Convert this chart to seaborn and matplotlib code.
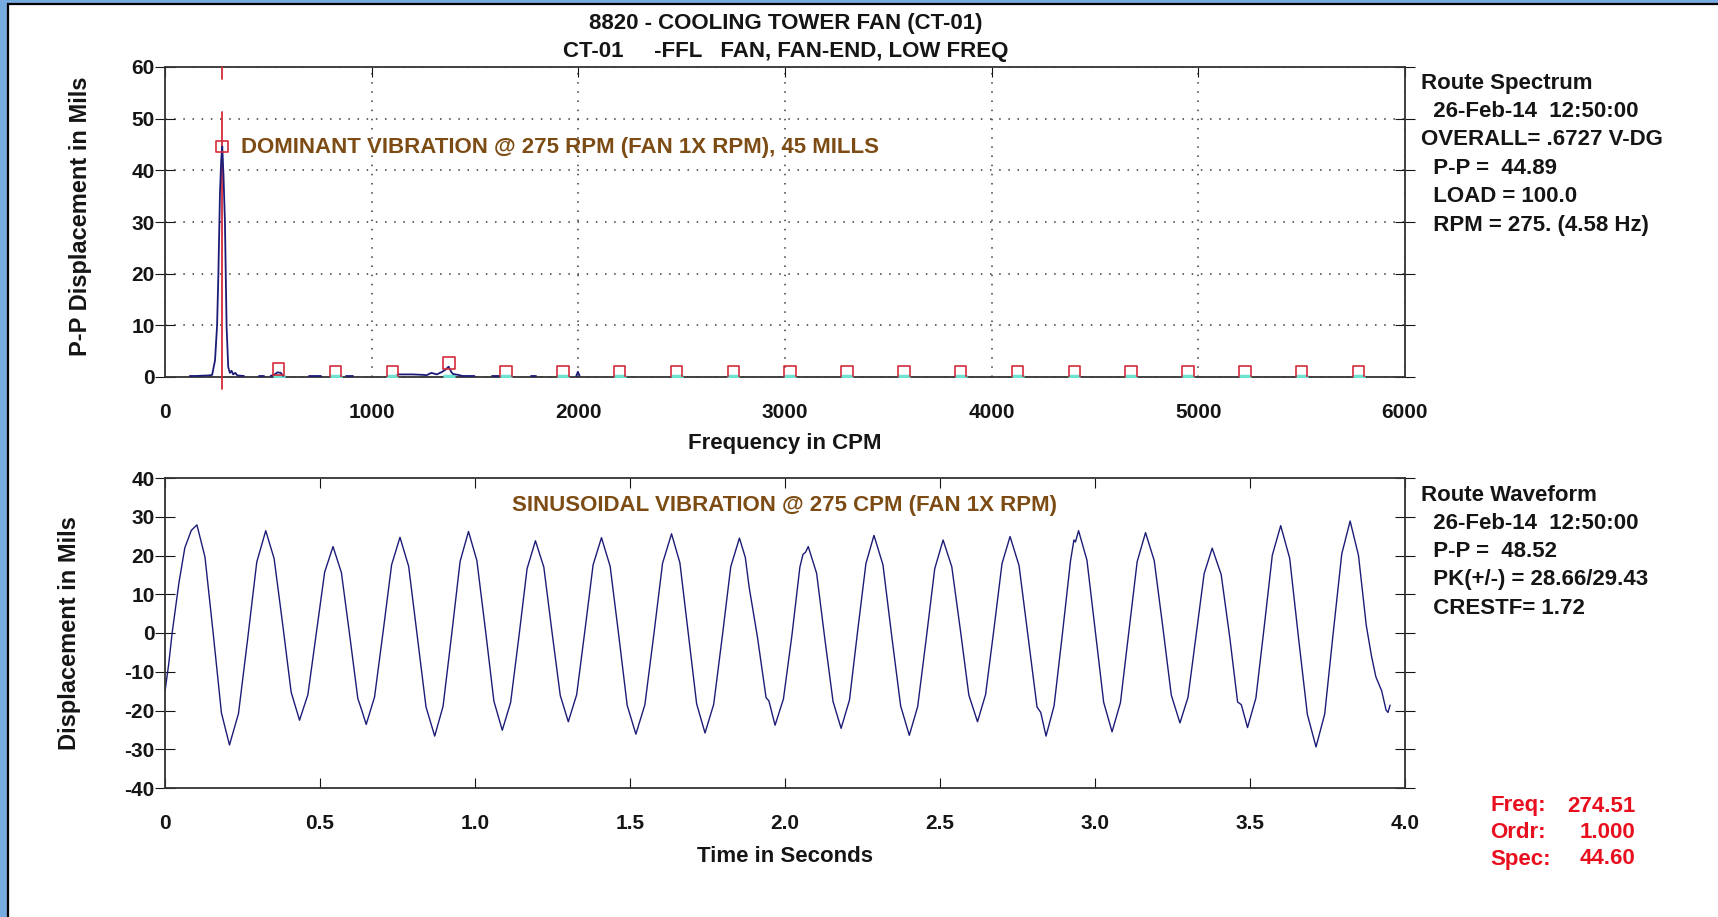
import numpy as np
import pandas as pd
import matplotlib
matplotlib.use('Agg')
from matplotlib import pyplot as plt
from matplotlib.patches import Rectangle
import seaborn as sns

# ---- spectrum trace (CPM vs mils P-P), seg = one connected piece of trace
spec_freq = [120, 150, 180, 210, 228, 242, 252, 258, 266, 272, 277, 283, 290, 298, 306, 314, 322, 330, 340, 350, 382,
             456, 480,
             511, 530, 545, 560, 572,
             698, 753,
             874, 909,
             1125, 1200, 1255, 1263, 1289, 1315, 1341, 1360, 1372, 1385, 1393, 1419, 1440, 1497,
             1582, 1616,
             1773, 1794,
             1990, 1998, 2006]
spec_amp = [0.2, 0.2, 0.25, 0.3, 0.4, 3.2, 10.0, 19.4, 35.6, 42.0, 44.6, 39.0, 30.0, 9.7, 1.9, 0.8, 1.2, 0.5, 0.8, 0.3, 0.2,
            0.2, 0.2,
            0.2, 0.5, 0.9, 0.8, 0.2,
            0.1, 0.1,
            0.1, 0.1,
            0.5, 0.5, 0.4, 0.3, 0.8, 0.5, 1.0, 1.5, 2.0, 1.0, 0.6, 0.4, 0.2, 0.2,
            0.2, 0.2,
            0.2, 0.2,
            0.2, 1.0, 0.2]
spec_seg = [0] * 21 + [1] * 2 + [2] * 5 + [3] * 2 + [4] * 2 + [5] * 14 + [6] * 2 + [7] * 2 + [8] * 3

# harmonic markers of running speed
harm_freq = [275, 550, 825, 1100, 1375, 1650, 1925, 2200, 2475, 2750, 3025,
             3300, 3575, 3850, 4125, 4400, 4675, 4950, 5225, 5500, 5775]
harm_amp = [44.6, 1.5, 1.0, 1.0, 2.7, 1.0, 1.0, 1.0, 1.0, 1.0, 1.0,
            1.0, 1.0, 1.0, 1.0, 1.0, 1.0, 1.0, 1.0, 1.0, 1.0]
cursor_freq = 274.51

# ---- waveform (seconds vs mils)
wave_t = [0.000, 0.012, 0.023, 0.045, 0.064, 0.085, 0.103, 0.129, 0.156, 0.182, 0.208, 0.237, 0.267, 0.296,
          0.325, 0.352, 0.380, 0.407, 0.434, 0.461, 0.488, 0.515, 0.542, 0.569, 0.596, 0.622, 0.635, 0.649,
          0.676, 0.704, 0.731, 0.758, 0.786, 0.814, 0.842, 0.870, 0.897, 0.925, 0.952, 0.979, 1.006, 1.034,
          1.061, 1.088, 1.115, 1.142, 1.168, 1.195, 1.222, 1.248, 1.275, 1.301, 1.328, 1.355, 1.381, 1.408,
          1.436, 1.464, 1.491, 1.519, 1.548, 1.577, 1.605, 1.634, 1.661, 1.688, 1.715, 1.742, 1.770, 1.798,
          1.825, 1.853, 1.872, 1.884, 1.911, 1.939, 1.948, 1.968, 1.995, 2.022, 2.048, 2.058, 2.066, 2.075,
          2.102, 2.128, 2.155, 2.181, 2.208, 2.234, 2.261, 2.287, 2.316, 2.344, 2.373, 2.401, 2.428, 2.456,
          2.483, 2.510, 2.538, 2.566, 2.593, 2.621, 2.647, 2.674, 2.700, 2.726, 2.755, 2.784, 2.813, 2.825,
          2.842, 2.868, 2.895, 2.921, 2.932, 2.937, 2.947, 2.974, 3.001, 3.028, 3.055, 3.082, 3.109, 3.136,
          3.163, 3.191, 3.219, 3.246, 3.274, 3.300, 3.326, 3.352, 3.378, 3.407, 3.435, 3.460, 3.472, 3.492,
          3.519, 3.546, 3.572, 3.599, 3.628, 3.656, 3.685, 3.713, 3.741, 3.768, 3.796, 3.823, 3.850, 3.875,
          3.892, 3.906, 3.925, 3.939, 3.945, 3.952]
wave_v = [-15.0, -8.0, 0.0, 13.0, 22.0, 26.5, 27.9, 19.6, -0.5, -20.6, -28.9, -20.8, -1.3, 18.3,
          26.4, 19.2, 2.0, -15.3, -22.5, -15.9, -0.1, 15.7, 22.3, 15.6, -0.7, -16.9, -20.0, -23.6,
          -16.5, 0.6, 17.6, 24.7, 17.2, -1.0, -19.1, -26.6, -18.9, -0.2, 18.5, 26.2, 18.7, 0.6,
          -17.6, -25.1, -17.9, -0.7, 16.6, 23.8, 17.0, 0.5, -16.1, -22.9, -15.9, 0.9, 17.6, 24.6,
          17.2, -0.8, -18.7, -26.1, -18.5, -0.3, 18.0, 25.6, 18.1, -0.1, -18.3, -25.8, -18.4, -0.7,
          17.1, 24.5, 19.5, 12.0, -1.0, -16.7, -17.5, -23.8, -17.0, -0.8, 17.0, 20.3, 20.8, 22.3,
          15.4, -1.2, -17.7, -24.6, -17.3, 0.3, 17.9, 25.2, 17.6, -0.6, -18.8, -26.4, -19.0, -1.2,
          16.6, 24.0, 17.1, 0.6, -16.0, -22.9, -15.9, 1.0, 17.9, 24.9, 17.4, -0.9, -19.1, -20.5,
          -26.6, -18.8, -0.1, 18.6, 24.0, 23.5, 26.4, 18.8, 0.5, -17.9, -25.5, -18.0, 0.2, 18.4,
          25.9, 18.7, 1.4, -16.0, -23.2, -16.6, -0.7, 15.3, 21.9, 15.1, -1.3, -17.8, -18.5, -24.4,
          -16.8, 1.7, 20.1, 27.7, 19.3, -0.9, -21.0, -29.4, -20.9, -0.3, 20.4, 28.9, 20.0, 2.0,
          -6.0, -11.3, -15.0, -19.9, -20.5, -18.6]

spec_ticks = [0, 1000, 2000, 3000, 4000, 5000, 6000]
spec_yticks = [0, 10, 20, 30, 40, 50, 60]
wave_ticks = [0, 0.5, 1.0, 1.5, 2.0, 2.5, 3.0, 3.5, 4.0]
wave_ticklabels = ['0', '0.5', '1.0', '1.5', '2.0', '2.5', '3.0', '3.5', '4.0']
wave_yticks = [-40, -30, -20, -10, 0, 10, 20, 30, 40]

title_lines = ['8820 - COOLING TOWER FAN (CT-01)', 'CT-01     -FFL   FAN, FAN-END, LOW FREQ']
spec_info = ['Route Spectrum', '  26-Feb-14  12:50:00', 'OVERALL= .6727 V-DG', '  P-P =  44.89',
             '  LOAD = 100.0', '  RPM = 275. (4.58 Hz)']
wave_info = ['Route Waveform', '  26-Feb-14  12:50:00', '  P-P =  48.52', '  PK(+/-) = 28.66/29.43',
             '  CRESTF= 1.72']
cursor_labels = ['Freq:', 'Ordr:', 'Spec:']
cursor_values = ['274.51', '1.000', '44.60']

sns.set_style('ticks')
plt.rcParams['font.family'] = ['Liberation Sans', 'DejaVu Sans']
plt.rcParams['font.weight'] = 'bold'
plt.rcParams['axes.unicode_minus'] = False

W, H = 1718, 917
fig = plt.figure(figsize=(W / 100, H / 100), dpi=100)
fig.patch.set_facecolor('#78abdf')
fig.patches.append(Rectangle((8 / W, -0.05), 1.1, 1 - 4 / H + 0.05, transform=fig.transFigure,
                             facecolor='white', edgecolor='black', lw=1.6, zorder=-10))

ink = '#151515'
navy = '#1c1c78'
red = '#d42c3c'
brown = '#7d4c14'
fs = 16

ax1 = fig.add_axes([165 / W, 1 - 377 / H, 1240 / W, 310 / H])
ax2 = fig.add_axes([165 / W, 1 - 788 / H, 1240 / W, 310 / H])

# ---------- spectrum
spec_df = pd.DataFrame({'freq': spec_freq, 'amp': spec_amp, 'seg': spec_seg})
sns.lineplot(data=spec_df, x='freq', y='amp', units='seg', estimator=None, color=navy, lw=1.3,
             ax=ax1, legend=False, zorder=4)
sns.scatterplot(x=harm_freq, y=harm_amp, marker='s', s=70, facecolor='none', edgecolor=red,
                linewidth=1.2, ax=ax1, zorder=5)
sns.scatterplot(x=harm_freq[1:], y=[0.15] * (len(harm_freq) - 1), marker='_', s=70, color='#6fe3d2',
                linewidth=2.5, ax=ax1, zorder=3)
ax1.plot([cursor_freq, cursor_freq], [51.2, -2.3], color=red, lw=1.3, clip_on=False, zorder=3)
ax1.plot([cursor_freq, cursor_freq], [57.6, 60], color=red, lw=1.3, clip_on=False, zorder=3)

ax1.set_xlim(0, 6000)
ax1.set_ylim(0, 60)
ax1.set_xticks(spec_ticks)
ax1.set_yticks(spec_yticks)
ax1.grid(True, linestyle=(0, (1, 5)), color='#3a3a3a', lw=1.1)
ax1.tick_params(axis='x', direction='in', length=7, top=True, bottom=False, labelsize=15, pad=19,
                colors=ink)
ax1.tick_params(axis='y', direction='inout', length=14, left=True, right=True, labelsize=15, pad=0.5,
                colors=ink)
ax1.set_xlabel('Frequency in CPM', fontsize=fs, fontweight='bold', color=ink, va='center')
ax1.xaxis.set_label_coords(0.5, -0.216)
ax1.set_ylabel('P-P Displacement in Mils', fontsize=17, fontweight='bold', color=ink, va='center')
ax1.yaxis.set_label_coords(-0.068, 0.52)
ax1.text(368, 44.4, 'DOMINANT VIBRATION @ 275 RPM (FAN 1X RPM), 45 MILLS', color=brown,
         fontsize=fs, fontweight='bold', va='center', ha='left')

# ---------- waveform
wave_df = pd.DataFrame({'t': wave_t, 'v': wave_v})
sns.lineplot(data=wave_df, x='t', y='v', color=navy, lw=1.0, ax=ax2, sort=False, estimator=None)
ax2.set_xlim(0, 4)
ax2.set_ylim(-40, 40)
ax2.set_xticks(wave_ticks)
ax2.set_xticklabels(wave_ticklabels)
ax2.set_yticks(wave_yticks)
ax2.tick_params(axis='x', direction='in', length=7, top=True, bottom=True, labelsize=15, pad=18.5,
                colors=ink)
ax2.tick_params(axis='y', direction='inout', length=14, left=True, right=True, labelsize=15, pad=0.5,
                colors=ink)
ax2.set_xlabel('Time in Seconds', fontsize=fs, fontweight='bold', color=ink, va='center')
ax2.xaxis.set_label_coords(0.5, -0.22)
ax2.set_ylabel('Displacement in Mils', fontsize=17, fontweight='bold', color=ink, va='center')
ax2.yaxis.set_label_coords(-0.077, 0.5)
ax2.text(2.0, 32.8, 'SINUSOIDAL VIBRATION @ 275 CPM (FAN 1X RPM)', color=brown,
         fontsize=fs, fontweight='bold', va='center', ha='center')

for ax in (ax1, ax2):
    for sp in ax.spines.values():
        sp.set_visible(True)
        sp.set_color('#333333')
        sp.set_linewidth(1.3)
    for lab in ax.get_xticklabels() + ax.get_yticklabels():
        lab.set_fontweight('bold')

# ---------- titles and info text
fig.text(786 / W, 1 - 23 / H, title_lines[0], ha='center', va='center', fontsize=fs,
         fontweight='bold', color=ink)
fig.text(786 / W, 1 - 51 / H, title_lines[1], ha='center', va='center', fontsize=fs,
         fontweight='bold', color=ink)

for i, line in enumerate(spec_info):
    fig.text(1421 / W, 1 - (83 + i * 28.4) / H, line, ha='left', va='center', fontsize=fs,
             fontweight='bold', color=ink)
for i, line in enumerate(wave_info):
    fig.text(1421 / W, 1 - (495 + i * 28.3) / H, line, ha='left', va='center', fontsize=fs,
             fontweight='bold', color=ink)
for i, (lab, val) in enumerate(zip(cursor_labels, cursor_values)):
    y = 1 - (806 + i * 26.5) / H
    fig.text(1490 / W, y, lab, ha='left', va='center', fontsize=fs, fontweight='bold', color='#e8101e')
    fig.text(1635 / W, y, val, ha='right', va='center', fontsize=fs, fontweight='bold', color='#e8101e')

fig.savefig('out.png', dpi=100, facecolor=fig.get_facecolor())
